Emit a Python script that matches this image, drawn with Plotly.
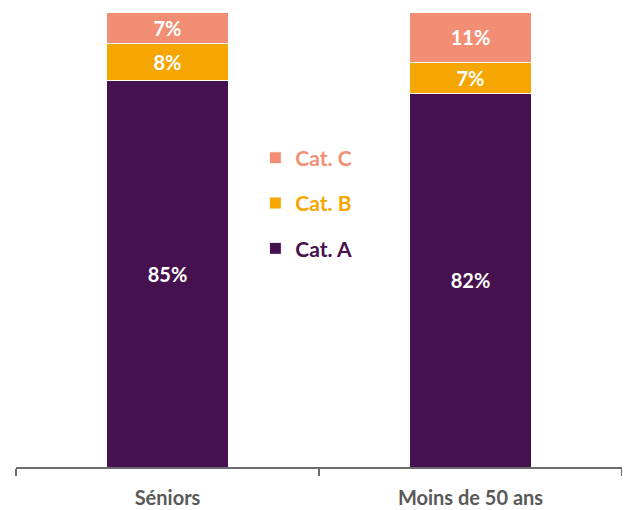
import plotly.graph_objects as go

categories = ["Séniors", "Moins de 50 ans"]
cat_a = [85, 82]
cat_b = [8, 7]
cat_c = [7, 11]
series_names = ["Cat. A", "Cat. B", "Cat. C"]
colors = ["#45114F", "#F5A600", "#F28E74"]
ranks = [3, 2, 1]

FONT = "Lato"

fig = go.Figure()
for name, vals, col, rk in zip(series_names, [cat_a, cat_b, cat_c], colors, ranks):
    fig.add_trace(go.Bar(
        x=categories, y=vals,
        name=f"<span style='color:{col}'><b>{name}</b></span>",
        legendgroup=name,
        legendrank=rk,
        marker=dict(color=col, line=dict(color="white", width=1)),
        texttemplate="<b>%{y}%</b>",
        textposition="inside",
        insidetextanchor="middle",
        textfont=dict(color="white", size=20, family=FONT),
        constraintext="none",
        hoverinfo="skip",
    ))

fig.update_layout(
    barmode="stack",
    bargap=0.6,
    width=630, height=510,
    margin=dict(l=7.5, r=16.3, t=3.7, b=50.7, autoexpand=False),
    paper_bgcolor="white",
    plot_bgcolor="white",
    font=dict(family=FONT, size=20, color="#595959"),
    showlegend=True,
    legend=dict(
        x=0.395, y=0.724, xanchor="left", yanchor="top",
        traceorder="grouped",
        tracegroupgap=15,
        font=dict(size=21, family=FONT),
        bgcolor="rgba(0,0,0,0)",
    ),
    uniformtext=dict(mode=False),
)
fig.update_xaxes(
    showline=True, linecolor="#6B6B6B", linewidth=1.5,
    ticks="outside", tickson="boundaries", ticklen=7, tickcolor="#6B6B6B", tickwidth=1.5,
    tickfont=dict(size=20, family=FONT, color="#595959"),
    ticklabelstandoff=12,
    tickprefix="<b>", ticksuffix="</b>",
    showgrid=False,
    automargin=False,
)
fig.update_yaxes(range=[0, 100], visible=False, showgrid=False, automargin=False)

fig.write_html("out.html")
